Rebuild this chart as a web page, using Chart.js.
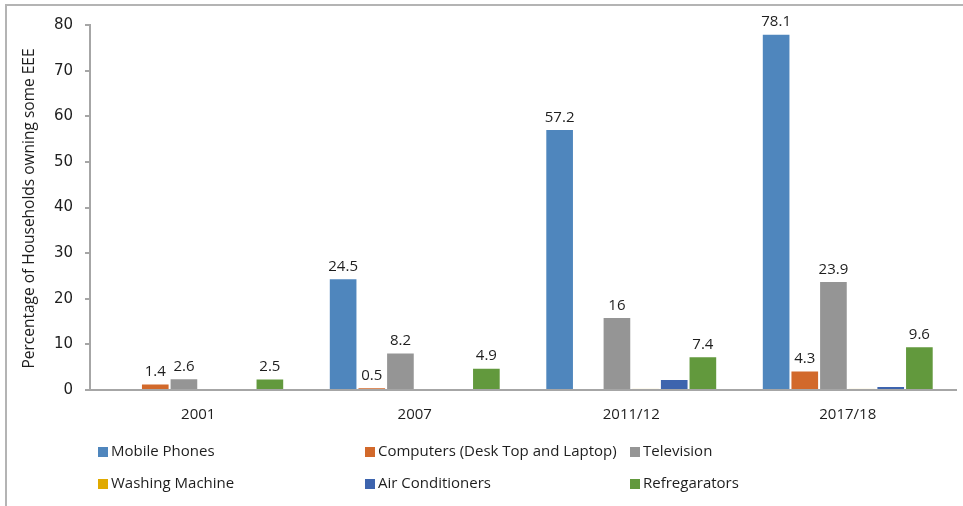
<!DOCTYPE html>
<html>
<head>
<meta charset="utf-8">
<script src="https://cdn.jsdelivr.net/npm/chart.js@4/dist/chart.umd.min.js"></script>
<style>
  html, body { margin: 0; padding: 0; background: #ffffff; overflow: hidden; }
  #wrap { position: relative; width: 963px; height: 506px; }
  #frame { position: absolute; left: 5px; top: 4px; width: 1000px; height: 600px;
           border-top: 2px solid #b4b4b4; border-left: 2px solid #b4b4b4; pointer-events: none; }
  canvas { position: absolute; left: 0; top: 0; }
</style>
</head>
<body>
<div id="wrap">
  <canvas id="c" width="963" height="506"></canvas>
  <div id="frame"></div>
</div>
<script>
// ---- data ----
const categories = ['2001', '2007', '2011/12', '2017/18'];
const mobilePhones   = [null, 24.5, 57.2, 78.1];
const computers      = [1.4, 0.5, null, 4.3];
const television     = [2.6, 8.2, 16, 23.9];
const washingMachine = [null, null, 0.3, 0.3];
const airConditioners= [null, null, 2.4, 0.9];
const refrigerators  = [2.5, 4.9, 7.4, 9.6];
const seriesNames = ['Mobile Phones', 'Computers (Desk Top and Laptop)', 'Television',
                     'Washing Machine', 'Air Conditioners', 'Refregarators'];
const labelledSeries = ['Mobile Phones', 'Computers (Desk Top and Laptop)', 'Television', 'Refregarators'];
const yTicks = [0, 10, 20, 30, 40, 50, 60, 70, 80];
const yTitle = 'Percentage of Households owning some EEE';

// ---- styles ----
const colors = ['#4f86bd', '#d2692b', '#959595', '#e0aa00', '#3d64ae', '#62993d'];
const seriesValues = [mobilePhones, computers, television, washingMachine, airConditioners, refrigerators];

const datasets = seriesNames.map((name, i) => ({
  label: name,
  data: seriesValues[i],
  backgroundColor: colors[i],
  borderColor: 'rgba(255,255,255,0.35)',
  borderWidth: 1,
  borderSkipped: 'bottom',
  barPercentage: 1.0,
  categoryPercentage: 0.794
}));

const axisColor = '#a6a6a6';
const textColor = '#1e1e1e';

const overlay = {
  id: 'overlay',
  afterDatasetsDraw(chart) {
    const ctx = chart.ctx;
    ctx.save();
    // data labels
    ctx.font = '15px "Open Sans"';
    ctx.fillStyle = textColor;
    ctx.textAlign = 'center';
    ctx.textBaseline = 'bottom';
    chart.data.datasets.forEach((ds, di) => {
      if (!labelledSeries.includes(ds.label)) return;
      const meta = chart.getDatasetMeta(di);
      meta.data.forEach((bar, i) => {
        const v = ds.data[i];
        if (v === null || v === undefined) return;
        ctx.fillText(String(v), bar.x, bar.y - 4);
      });
    });
    // y axis title
    const ca = chart.chartArea;
    ctx.save();
    ctx.translate(30, (ca.top + ca.bottom) / 2 + 1);
    ctx.rotate(-Math.PI / 2);
    ctx.font = '15.5px "Open Sans"';
    ctx.textAlign = 'center';
    ctx.textBaseline = 'middle';
    ctx.fillStyle = textColor;
    ctx.fillText(yTitle, 0, 0);
    ctx.restore();
    // legend
    const colX = [98, 365, 630];
    const rowY = [452, 484];
    ctx.font = '15px "Open Sans"';
    ctx.textAlign = 'left';
    ctx.textBaseline = 'middle';
    chart.data.datasets.forEach((ds, i) => {
      const x = colX[i % 3], y = rowY[Math.floor(i / 3)];
      ctx.fillStyle = ds.backgroundColor;
      ctx.fillRect(x, y - 5, 10, 10);
      ctx.fillStyle = textColor;
      ctx.fillText(ds.label, x + 13, y);
    });
    ctx.restore();
  }
};

new Chart(document.getElementById('c'), {
  type: 'bar',
  data: { labels: categories, datasets },
  options: {
    responsive: false,
    animation: false,
    devicePixelRatio: 1,
    layout: { padding: { top: 25, right: 7, bottom: 0, left: 0 } },
    plugins: { legend: { display: false }, tooltip: { enabled: false } },
    scales: {
      x: {
        grid: { display: false, drawTicks: false },
        border: { display: true, color: axisColor, width: 2 },
        ticks: { color: textColor, font: { family: 'Open Sans', size: 15 }, padding: 16 },
        afterFit(s) { s.height = 116; }
      },
      y: {
        min: 0, max: 80,
        afterBuildTicks(s) { s.ticks = yTicks.map(v => ({ value: v })); },
        grid: { drawOnChartArea: false, drawTicks: true, tickLength: 5, color: axisColor, lineWidth: 2 },
        border: { display: true, color: axisColor, width: 2 },
        ticks: { color: textColor, font: { family: 'DejaVu Sans', size: 15 }, padding: 12 },
        afterFit(s) { s.width = 90; }
      }
    }
  },
  plugins: [overlay]
});
</script>
</body>
</html>
